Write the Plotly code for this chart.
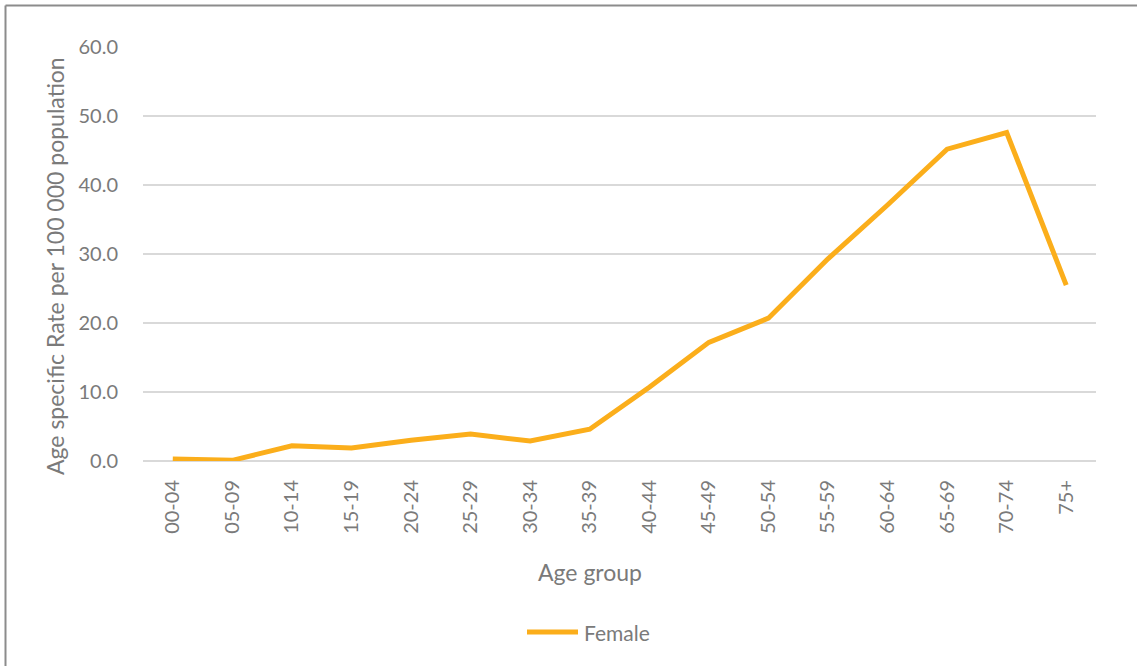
import plotly.graph_objects as go

# ========= data =========
AGE_GROUPS = ["00-04", "05-09", "10-14", "15-19", "20-24", "25-29", "30-34", "35-39",
              "40-44", "45-49", "50-54", "55-59", "60-64", "65-69", "70-74", "75+"]
FEMALE_RATE = [0.3, 0.1, 2.2, 1.9, 3.0, 3.9, 2.9, 4.6,
               10.7, 17.2, 20.7, 29.3, 37.1, 45.2, 47.6, 25.5]
Y_TICKS = [0, 10, 20, 30, 40, 50, 60]

# ========= style =========
LINE_COLOR = "#FBAE1B"
TEXT_COLOR = "#7A7A7A"
GRID_COLOR = "#D9D9D9"
BORDER_COLOR = "#8C8C8C"
FONT = "Lato, 'Open Sans', sans-serif"

W, H = 1137, 666
L, R, T, B = 143, 41, 47, 205
pw = W - L - R
ph = H - T - B


def px(x):
    return (x - L) / pw


def py(y):
    return (H - B - y) / ph


fig = go.Figure()
fig.add_trace(go.Scatter(
    x=AGE_GROUPS, y=FEMALE_RATE, mode="lines", name="Female",
    line=dict(color=LINE_COLOR, width=5),
))

fig.update_layout(
    width=W, height=H,
    margin=dict(l=L, r=R, t=T, b=B, pad=0),
    paper_bgcolor="white", plot_bgcolor="white",
    font=dict(family=FONT, color=TEXT_COLOR, size=20),
    showlegend=False,
)
fig.update_xaxes(
    type="category", tickangle=-90, showgrid=False, showline=False, zeroline=False,
    ticks="", ticklabelstandoff=14, tickfont=dict(size=20, color=TEXT_COLOR),
    range=[-0.5, len(AGE_GROUPS) - 0.5],
)
fig.update_yaxes(
    range=[0, 60], tickvals=Y_TICKS, tickformat=".1f",
    showgrid=True, gridcolor=GRID_COLOR, gridwidth=1.5,
    zeroline=True, zerolinecolor=GRID_COLOR, zerolinewidth=1.5,
    showline=False, ticks="", ticklabelstandoff=24,
    tickfont=dict(size=20, color=TEXT_COLOR),
)

fig.add_annotation(
    text="Age specific Rate per 100 000 population", textangle=-90,
    xref="paper", yref="paper", x=px(55), y=py(266),
    xanchor="center", yanchor="middle", showarrow=False,
    font=dict(size=23, color=TEXT_COLOR),
)
fig.add_annotation(
    text="Age group", xref="paper", yref="paper", x=px(590), y=py(572),
    xanchor="center", yanchor="middle", showarrow=False,
    font=dict(size=23, color=TEXT_COLOR),
)

# legend drawn by hand so the swatch matches the wide Excel style
fig.add_shape(type="line", xref="paper", yref="paper",
              x0=px(527), x1=px(578), y0=py(632), y1=py(632),
              line=dict(color=LINE_COLOR, width=5))
fig.add_annotation(
    text="Female", xref="paper", yref="paper", x=px(582), y=py(632),
    xanchor="left", yanchor="middle", showarrow=False,
    font=dict(size=21, color=TEXT_COLOR),
)

# chart border (left and top edges only visible)
fig.add_shape(type="line", xref="paper", yref="paper",
              x0=px(5.5), x1=px(W + 5), y0=py(5.5), y1=py(5.5),
              line=dict(color=BORDER_COLOR, width=2))
fig.add_shape(type="line", xref="paper", yref="paper",
              x0=px(5.5), x1=px(5.5), y0=py(5.5), y1=py(H + 5),
              line=dict(color=BORDER_COLOR, width=2))

fig.write_html("out.html", config={"displayModeBar": False},
               post_script="document.body.style.margin='0';")
